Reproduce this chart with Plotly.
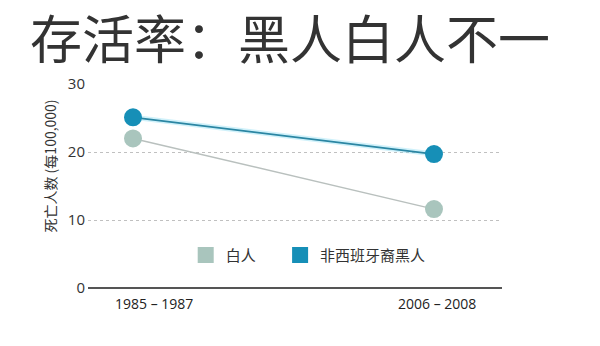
import plotly.graph_objects as go

# Periods and deaths per 100,000 for each group
periods = ["1985 – 1987", "2006 – 2008"]
white_values = [22.0, 11.6]
black_values = [25.1, 19.7]
series_names = ["白人", "非西班牙裔黑人"]
y_ticks = [0, 10, 20, 30]

title_text = "存活率：黑人白人不一"
y_title = "死亡人数 (每100,000)"

gray_marker = "#a9c5bd"
gray_line = "#b9c0be"
blue_marker = "#168fb7"
blue_line = "#2b86a3"

font_cjk = "Noto Sans CJK SC"
x_pos = list(range(len(periods)))

fig = go.Figure()

# soft glow under the blue line
fig.add_trace(go.Scatter(
    x=x_pos, y=black_values, mode="lines",
    line=dict(color="rgba(120,215,240,0.35)", width=5),
    showlegend=False, hoverinfo="skip"))

fig.add_trace(go.Scatter(
    x=x_pos, y=white_values, mode="lines+markers",
    line=dict(color=gray_line, width=1.5),
    marker=dict(color=gray_marker, size=18),
    showlegend=False, name=series_names[0]))

fig.add_trace(go.Scatter(
    x=x_pos, y=black_values, mode="lines+markers",
    line=dict(color=blue_line, width=1.8),
    marker=dict(color=blue_marker, size=18),
    showlegend=False, name=series_names[1]))

# legend swatches, one legend box per group
for name, color, lg in zip(series_names, [gray_marker, blue_marker],
                           ["legend", "legend2"]):
    fig.add_trace(go.Scatter(
        x=[None], y=[None], mode="markers", name=name, legend=lg,
        marker=dict(color=color, size=17, symbol="square")))

annotations = [
    dict(text=title_text, xref="paper", yref="paper", x=-0.145, y=1.0,
         yshift=48, xanchor="left", yanchor="middle", showarrow=False,
         font=dict(family=font_cjk, size=52, color="#333333")),
    dict(text=y_title, xref="paper", yref="paper", x=-0.092, y=0.60,
         textangle=-90, xanchor="center", yanchor="middle", showarrow=False,
         font=dict(family=font_cjk, size=14, color="#333333")),
]
for i, (label, shift) in enumerate(zip(periods, [21, 3])):
    annotations.append(dict(
        text=label, xref="x", yref="paper", x=x_pos[i], y=0, xshift=shift,
        yshift=-15, xanchor="center", yanchor="middle", showarrow=False,
        font=dict(family="Open Sans", size=14, color="#222222")))

legend_style = dict(orientation="h", y=0.16, xanchor="left", yanchor="middle",
                    bgcolor="rgba(0,0,0,0)", itemwidth=30,
                    font=dict(family=font_cjk, size=15, color="#333333"))

fig.update_layout(
    width=600, height=346,
    margin=dict(l=88, r=98, t=84, b=58),
    paper_bgcolor="white", plot_bgcolor="white",
    annotations=annotations,
    legend=dict(x=0.236, **legend_style),
    legend2=dict(x=0.464, **legend_style),
    xaxis=dict(range=[-0.1495, 1.226], showgrid=False, zeroline=False,
               showticklabels=False, showline=False, fixedrange=True),
    yaxis=dict(range=[0, 30], tickvals=y_ticks, showgrid=True,
               gridcolor="#c0c0c0", griddash="dot", gridwidth=1,
               zeroline=True, zerolinecolor="#555555", zerolinewidth=2,
               showline=False, ticks="",
               tickfont=dict(family="Open Sans", size=15, color="#333333"),
               ticklabelstandoff=2, fixedrange=True),
)

fig.write_html("out.html")
